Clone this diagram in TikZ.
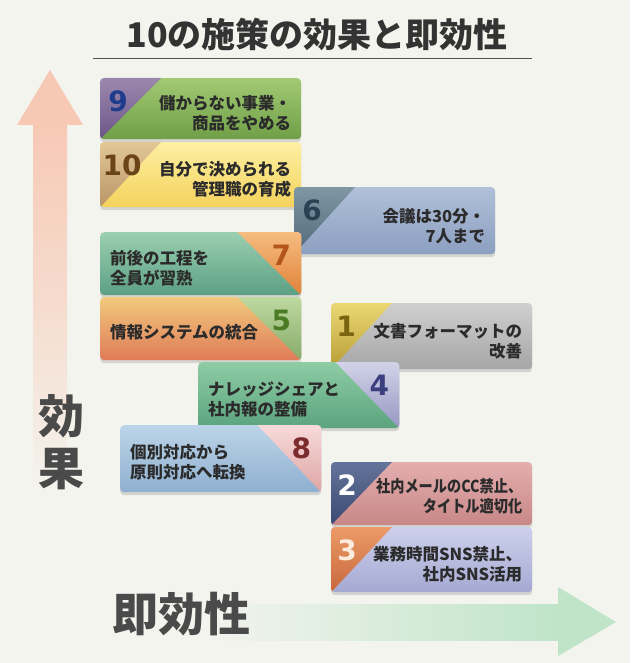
\documentclass[tikz,border=0pt]{standalone}
\usepackage{fontspec}
\usepackage{graphicx}
\setmainfont{Noto Sans CJK JP}
\newfontfamily\numfont{DejaVu Sans}
\usetikzlibrary{calc,shadows}

\definecolor{bgc}{HTML}{F4F4EF}
\definecolor{titlec}{HTML}{333333}
\definecolor{axisc}{HTML}{4A4A4A}
\definecolor{bodyc}{HTML}{2B2B2B}
\definecolor{vpink}{HTML}{F7C9B5}
\definecolor{hgreen}{HTML}{BFE4C8}

\definecolor{m9a}{HTML}{A2C973}\definecolor{m9b}{HTML}{6F9F48}
\definecolor{n9a}{HTML}{9C88AE}\definecolor{n9b}{HTML}{6B5689}\definecolor{k9}{HTML}{1F3C8C}
\definecolor{m10a}{HTML}{FDF0A2}\definecolor{m10b}{HTML}{F4D25C}
\definecolor{n10a}{HTML}{E2C797}\definecolor{n10b}{HTML}{B99466}\definecolor{k10}{HTML}{6B4318}
\definecolor{m6a}{HTML}{B0C0D9}\definecolor{m6b}{HTML}{8C9FC0}
\definecolor{n6a}{HTML}{7E97A3}\definecolor{n6b}{HTML}{51697A}\definecolor{k6}{HTML}{2C4254}
\definecolor{m7a}{HTML}{9BD0B0}\definecolor{m7b}{HTML}{5C9F84}
\definecolor{n7a}{HTML}{F6BC80}\definecolor{n7b}{HTML}{E08238}\definecolor{k7}{HTML}{B4561C}
\definecolor{m5a}{HTML}{F1C97D}\definecolor{m5b}{HTML}{E07B58}
\definecolor{n5a}{HTML}{BFD9A0}\definecolor{n5b}{HTML}{84AB69}\definecolor{k5}{HTML}{4B7B25}
\definecolor{m1a}{HTML}{CFCFCF}\definecolor{m1b}{HTML}{A6A6A8}
\definecolor{n1a}{HTML}{EBD874}\definecolor{n1b}{HTML}{B79C34}\definecolor{k1}{HTML}{7A6410}
\definecolor{m4a}{HTML}{8ECCA5}\definecolor{m4b}{HTML}{5BA47E}
\definecolor{n4a}{HTML}{D2D3E8}\definecolor{n4b}{HTML}{9597C2}\definecolor{k4}{HTML}{3B3F7D}
\definecolor{m8a}{HTML}{BCD4E8}\definecolor{m8b}{HTML}{8FB0D0}
\definecolor{n8a}{HTML}{F8DADA}\definecolor{n8b}{HTML}{DFA5A5}\definecolor{k8}{HTML}{7B2C2C}
\definecolor{m2a}{HTML}{E4AEAE}\definecolor{m2b}{HTML}{C88787}
\definecolor{n2a}{HTML}{64739A}\definecolor{n2b}{HTML}{3A4A70}\definecolor{k2}{HTML}{FFFFFF}
\definecolor{m3a}{HTML}{CDD0EC}\definecolor{m3b}{HTML}{A5A9D2}
\definecolor{n3a}{HTML}{EC9A68}\definecolor{n3b}{HTML}{C7683C}\definecolor{k3}{HTML}{FBEBDD}

\tikzset{
  card/.style={rectangle, rounded corners=4pt, minimum width=201pt, anchor=north west,
    inner sep=0pt, draw=none,
    drop shadow={opacity=0.28, shadow xshift=0pt, shadow yshift=-3pt}},
  numtxt/.style={font=\numfont\bfseries\fontsize{28}{30}\selectfont, inner sep=0pt},
  bodytxt/.style={font=\bfseries\fontsize{16.5}{20}\selectfont, text=bodyc, inner sep=0pt},
}

% #1 id, #2 x, #3 y, #4 height, #5 number, #6 text, #7 number x offset
\newcommand\cardL[7]{%
  \node[card, minimum height=#4pt, top color=m#1a, bottom color=m#1b] (b#1) at (#2,#3) {};
  \begin{scope}
    \clip[rounded corners=4pt] (b#1.north west) rectangle (b#1.south east);
    \shade[top color=n#1a, bottom color=n#1b] (b#1.north west) -- ($(b#1.north west)+(61,0)$) -- (b#1.south west) -- cycle;
  \end{scope}
  \node[numtxt, text=k#1] (n#1) at ($(b#1.north west)+(#7,23)$) {#5};
  \node[bodytxt, align=right, anchor=east] (t#1) at ($(b#1.east)+(-10,5)$) {#6};
}
\newcommand\cardR[6]{%
  \node[card, minimum height=#4pt, top color=m#1a, bottom color=m#1b] (b#1) at (#2,#3) {};
  \begin{scope}
    \clip[rounded corners=4pt] (b#1.north west) rectangle (b#1.south east);
    \shade[top color=n#1a, bottom color=n#1b] (b#1.north east) -- ($(b#1.north east)+(-64,0)$) -- (b#1.south east) -- cycle;
  \end{scope}
  \node[numtxt, text=k#1] (n#1) at ($(b#1.north east)+(-20,23)$) {#5};
  \node[bodytxt, align=left, anchor=west] (t#1) at ($(b#1.west)+(10,4)$) {#6};
}

\begin{document}
\begin{tikzpicture}[x=1pt,y=-1pt]
\fill[bgc] (0,0) rectangle (630,663);
\useasboundingbox (0,0) rectangle (630,663);

% title
\node[font=\bfseries\fontsize{34}{40}\selectfont, text=titlec, inner sep=0pt] (title) at (317,34) {10の施策の効果と即効性};
\coordinate (ulA) at (93,59);
\coordinate (ulB) at (532,59);
\draw[titlec!85, line width=1pt] (ulA) -- (ulB);

% vertical axis arrow
\shade[top color=vpink, bottom color=bgc, middle color=vpink!55!bgc] (33,124.5) rectangle (67,495);
\fill[vpink] (50,70) -- (83,125) -- (17,125) -- cycle;
\node[font=\bfseries\fontsize{46}{52}\selectfont, text=axisc, align=center, inner sep=0pt] (ylab) at (61,442) {効\\果};

% horizontal axis arrow
\shade[left color=bgc, right color=hgreen] (200,604) rectangle (559,640);
\fill[hgreen] (558,587) -- (616,622) -- (558,656) -- cycle;
\node[font=\bfseries\fontsize{46}{52}\selectfont, text=axisc, inner sep=0pt, anchor=west] (xlab) at (112,614) {即効性};

% cards
\cardL{9}{100}{78}{61}{9}{儲からない事業・\\商品をやめる}{18}
\cardL{10}{100}{142}{65}{10}{自分で決められる\\管理職の育成}{22}
\cardL{6}{294}{187}{67}{6}{会議は30分・\\7人まで}{18}
\cardR{7}{100}{232}{63}{7}{前後の工程を\\全員が習熟}
\cardR{5}{100}{297}{63}{5}{情報システムの統合}
\cardL{1}{331}{303}{66}{1}{文書フォーマットの\\改善}{15}
\cardR{4}{198}{362}{66}{4}{ナレッジシェアと\\社内報の整備}
\cardR{8}{120}{425}{67}{8}{個別対応から\\原則対応へ転換}
\cardL{2}{331}{462}{63}{2}{\scalebox{0.86}[1]{\begin{tabular}{@{}r@{}}社内メールのCC禁止、\\タイトル適切化\end{tabular}}}{16}
\cardL{3}{331}{527}{65}{3}{業務時間SNS禁止、\\社内SNS活用}{16}
\end{tikzpicture}
\end{document}
